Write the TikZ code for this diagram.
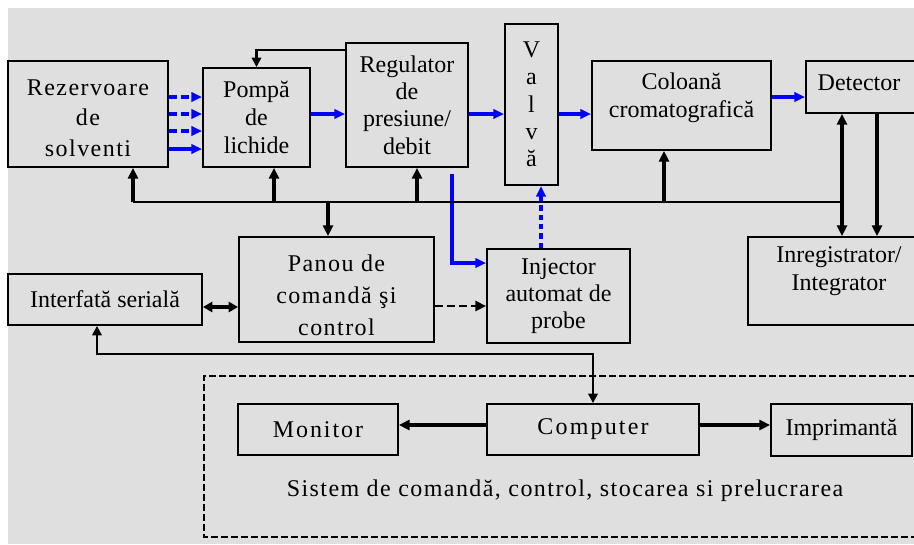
\documentclass[tikz,border=0pt]{standalone}
\usepackage{fontspec}
\setmainfont{Liberation Serif}
\usetikzlibrary{arrows.meta}
\definecolor{bgColor}{RGB}{223,223,223}
\definecolor{flowColor}{RGB}{0,0,255}
\begin{document}
\begin{tikzpicture}[x=0.75pt,y=-0.75pt,
  box/.style={draw=black,line width=1.4pt,fill=bgColor,inner sep=0pt,align=center,
    font=\fontsize{18}{21}\selectfont},
  txt/.style={inner sep=0pt,align=center,font=\fontsize{18}{21}\selectfont},
  spaced/.style={font=\fontsize{18}{#1}\selectfont\addfontfeature{LetterSpace=6}},
  flow/.style={draw=flowColor,line width=2.6pt,-{Triangle[length=8pt,width=7pt]}},
  flowdash/.style={flow,dash pattern=on 6pt off 3pt},
  sig/.style={draw=black,line width=2.6pt,-{Triangle[length=8pt,width=7.5pt]}},
  sigthin/.style={draw=black,line width=1.6pt,-{Triangle[length=7pt,width=7pt]}},
  bus/.style={draw=black,line width=1.6pt}]
\useasboundingbox (0,0) rectangle (914,544);
\path[fill=white] (0,0) rectangle (914,544);
\path[fill=bgColor] (8,8) rectangle (914,544);

\path[draw=black,line width=1.5pt,dash pattern=on 5pt off 2.5pt] (916,376) -- (204,376) -- (204,537) -- (916,537);

\node[box,minimum width=120pt,minimum height=79.5pt,spaced=23] (rez) at (88,114) {};
\node[txt,spaced=23] (rezt) at (88,118) {Rezervoare\\de\\solventi};
\node[box,minimum width=80.25pt,minimum height=74.25pt] (pompa) at (256.5,117.5) {Pompă\\de\\lichide};
\node[box,minimum width=91.5pt,minimum height=93pt,font=\fontsize{18}{20.5}\selectfont] (reg) at (407,105) {Regulator\\de\\presiune/\\debit};
\node[box,minimum width=39.75pt,minimum height=120.75pt,font=\fontsize{18}{20.5}\selectfont] (valva) at (531.5,104.5) {V\\a\\l\\v\\ă};
\node[box,minimum width=134.25pt,minimum height=66.75pt] (col) at (681.5,105.5) {};
\node[txt] (colt) at (681.5,98) {Coloană\\cromatografică};
\node[box,minimum width=82.5pt,minimum height=39pt] (det) at (861,87) {};
\node[txt] (dett) at (859,83) {Detector};
\node[box,minimum width=126pt,minimum height=66pt] (inreg) at (832,281) {};
\node[txt] (inregt) at (839,271.5) {Inregistrator/\\Integrator};
\node[box,minimum width=146.25pt,minimum height=78.75pt] (panou) at (336.5,289.5) {};
\node[txt,spaced=24] (panout) at (336.5,295) {Panou de\\comandă şi\\control};
\node[box,minimum width=145.5pt,minimum height=38.25pt] (inter) at (105,299.5) {Interfată serială};
\node[box,minimum width=107.25pt,minimum height=70.5pt,font=\fontsize{18}{20}\selectfont] (inj) at (558.5,296) {Injector\\automat de\\probe};
\node[box,minimum width=120pt,minimum height=38.25pt,font=\fontsize{18}{21}\selectfont\addfontfeature{LetterSpace=8}] (mon) at (318,429.5) {Monitor};
\node[box,minimum width=159pt,minimum height=38.25pt,font=\fontsize{18}{21}\selectfont\addfontfeature{LetterSpace=9}] (comp) at (593,429.5) {Computer};
\node[box,minimum width=105.75pt,minimum height=39pt] (impr) at (841.5,430) {Imprimantă};
\node[txt,spaced=21] (sist) at (565,491) {Sistem de comandă, control, stocarea si prelucrarea};

\foreach \yy/\st in {97/flowdash,114/flowdash,131/flowdash,149/flow}
  \draw[\st] (rez.east |- 0,\yy) -- (pompa.west |- 0,\yy);
\draw[flow] (pompa.east |- 0,114) -- (reg.west |- 0,114);
\draw[flow] (reg.east |- 0,114) -- (valva.west |- 0,114);
\draw[flow] (valva.east |- 0,114) -- (col.west |- 0,114);
\draw[flow] (col.east |- 0,97) -- (det.west |- 0,97);
\draw[flow] (reg.south -| 452,0) ++(0,6) |- (inj.west |- 0,263);
\draw[flow,dash pattern=on 4pt off 3pt] (inj.north -| 541,0) -- (valva.south -| 541,0);

\draw[sigthin] (reg.west |- 0,50) -| (pompa.north);
\coordinate (busL) at (133,202);
\coordinate (busR) at (842,202);
\draw[bus] (busL) -- (busR);
\draw[sig] (busL) -- (busL |- rez.south);
\draw[sig] (busL -| 274,0) -- (pompa.south -| 274,0);
\draw[sig] (busL -| 417,0) -- (reg.south -| 417,0);
\draw[sig] (busL -| 664,0) -- (col.south -| 664,0);
\draw[sig] (busL -| 328,0) -- (panou.north -| 328,0);
\draw[sig,{Triangle[length=8pt,width=7.5pt]}-{Triangle[length=8pt,width=7.5pt]}] (det.south -| busR) -- (inreg.north -| busR);
\draw[sig] (det.south -| 877,0) -- (inreg.north -| 877,0);

\draw[sig,{Triangle[length=7pt,width=7.5pt]}-{Triangle[length=7pt,width=7.5pt]}] (inter.east |- 0,307) -- (panou.west |- 0,307);
\draw[sig,line width=1.9pt,dash pattern=on 6pt off 3pt] (panou.east |- 0,306) -- (inj.west |- 0,306);
\draw[sigthin,{Triangle[length=7pt,width=7pt]}-{Triangle[length=7pt,width=7pt]}] (inter.south -| 97,0) -- (97,354) -| (comp.north);
\draw[sig] (comp.west |- 0,425) -- (mon.east |- 0,425);
\draw[sig] (comp.east |- 0,425) -- (impr.west |- 0,425);
\end{tikzpicture}
\end{document}
